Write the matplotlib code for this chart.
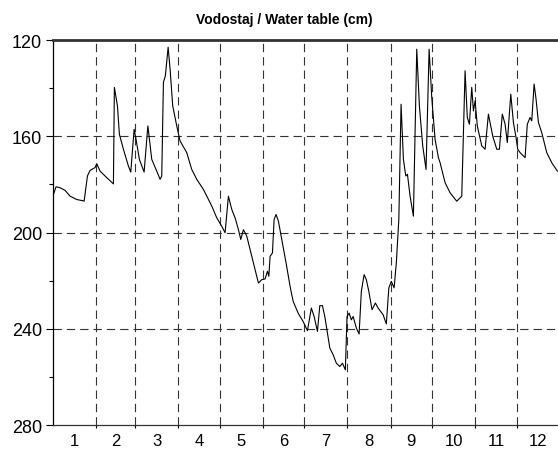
import numpy as np
import matplotlib
matplotlib.use('Agg')
import matplotlib.pyplot as plt

# day of year and water table depth (cm)
days = [0.3, 2.2, 5.1, 8.7, 12.3, 17.1, 21.5, 22.4, 24.8, 26.7, 30.3, 31.5, 33.9, 38.7,
        43.5, 44.2, 46.4, 47.8, 50.7, 54.3, 56.0, 58.4, 59.8, 62.2, 65.6, 68.3, 71.1,
        74.7, 77.1, 78.3, 79.5, 80.9, 82.9, 84.3, 86.2, 89.1, 91.5, 96.3, 99.9, 103.5,
        108.3, 114.3, 117.9, 121.5, 123.9, 126.3, 128.7, 131.1, 133.5, 135.2, 137.1,
        139.5, 143.1, 147.9, 150.3, 152.7, 154.4, 155.4, 156.3, 158.0, 159.2, 160.6,
        162.3, 164.7, 167.8, 170.7, 172.9, 176.5, 180.1, 183.2, 186.0, 188.0, 190.4,
        192.1, 194.0, 195.7, 199.3, 201.7, 204.0, 206.5, 208.4, 210.5, 211.7, 213.2,
        214.8, 216.1, 218.4, 220.4, 222.0, 224.0, 225.6, 227.4, 229.7, 232.1, 234.1,
        237.7, 240.0, 241.8, 243.6, 245.6, 247.2, 249.0, 250.6, 252.3, 254.0, 255.2,
        257.1, 259.5, 261.9, 263.8, 266.2, 268.6, 270.8, 272.7, 273.9, 275.1, 277.5,
        278.7, 282.3, 285.9, 290.7, 294.3, 296.7, 298.3, 299.8, 301.5, 302.7, 303.9,
        305.5, 308.7, 311.1, 313.5, 316.6, 319.5, 321.4, 323.5, 325.5, 327.1, 329.6,
        331.5, 333.4, 334.6, 336.3, 339.9, 341.5, 343.5, 344.7, 346.4, 347.8, 349.5,
        351.9, 355.5, 359.1, 363.2]
level = [184.2, 181.0, 181.4, 182.5, 184.9, 186.3, 186.8, 187.0, 176.5, 174.2, 173.0,
         171.4, 174.5, 177.2, 179.8, 139.7, 147.4, 159.2, 165.4, 172.4, 174.9, 157.1,
         161.3, 169.6, 174.9, 155.7, 169.6, 174.5, 177.9, 176.5, 137.6, 134.9, 123.0,
         132.1, 147.4, 155.7, 162.0, 166.8, 173.8, 177.9, 182.1, 189.0, 193.9, 197.4,
         200.1, 184.9, 190.4, 193.9, 198.8, 202.9, 198.8, 201.5, 209.9, 221.0, 219.6,
         219.3, 216.1, 218.2, 209.9, 208.5, 194.6, 192.5, 195.3, 202.9, 212.6, 222.4,
         228.6, 233.5, 237.0, 240.8, 231.4, 234.9, 241.1, 230.4, 230.4, 234.9, 248.0,
         250.8, 254.3, 255.7, 254.3, 257.1, 234.9, 233.5, 236.3, 234.9, 239.7, 242.2,
         224.5, 217.5, 219.6, 224.5, 232.1, 229.3, 231.4, 234.2, 238.0, 223.0, 220.3,
         223.0, 212.6, 194.6, 146.7, 169.6, 176.5, 175.8, 184.9, 193.2, 123.8, 147.4,
         164.0, 173.8, 123.8, 143.9, 152.9, 161.3, 168.9, 171.0, 179.3, 183.5, 187.0,
         184.9, 132.8, 152.2, 155.0, 139.7, 149.5, 145.3, 155.7, 164.0, 165.4, 150.8,
         159.9, 165.4, 165.4, 150.8, 155.0, 162.6, 142.5, 154.3, 160.5, 165.4, 166.8,
         168.9, 155.0, 152.2, 153.6, 138.3, 144.6, 154.3, 158.5, 166.8, 171.0, 174.5]

month_days = [31, 28, 31, 30, 31, 30, 31, 31, 30, 31, 30, 31]
month_labels = [str(m) for m in range(1, 13)]
y_major = [120, 160, 200, 240, 280]
y_minor = [140, 180, 220, 260]
title = 'Vodostaj / Water table (cm)'

plt.rcParams['font.family'] = ['Liberation Sans', 'DejaVu Sans']

fig = plt.figure(figsize=(5.58, 4.52), dpi=100)
ax = fig.add_axes([53 / 558, 1 - 426 / 452, 1 - 53 / 558, (426 - 41) / 452])

edges = np.cumsum(month_days)
centers = edges - np.array(month_days) / 2.0

grid_style = dict(color='#333333', lw=0.8, linestyle=(0, (7.5, 4.5)), zorder=1)
for e in edges[:-1]:
    ax.axvline(e, **grid_style)
for y in y_major[1:-1]:
    ax.axhline(y, **grid_style)

ax.plot(days, level, color='black', lw=0.8, zorder=3)

ax.set_xlim(0, 363.6)
ax.set_ylim(280, 120)

ax.set_yticks(y_major)
ax.set_yticks(y_minor, minor=True)
ax.tick_params(axis='y', which='major', direction='out', length=5, width=0.8,
               labelsize=13, pad=3)
ax.tick_params(axis='y', which='minor', direction='out', length=3, width=0.8)

ax.set_xticks(edges[:-1])
ax.set_xticklabels([])
ax.set_xticks(centers, minor=True)
ax.set_xticklabels(month_labels, minor=True)
ax.tick_params(axis='x', which='major', direction='out', length=2.5, width=0.8)
ax.tick_params(axis='x', which='minor', length=0, labelsize=12, pad=6)

ax.spines['right'].set_visible(False)
ax.spines['top'].set_linewidth(2.0)
ax.spines['top'].set_color('#333333')
ax.spines['left'].set_linewidth(0.9)
ax.spines['bottom'].set_linewidth(0.9)
ax.spines['bottom'].set_color('#333333')

fig.text(0.51, 1 - 20 / 452, title, ha='center', va='center',
         fontsize=10, fontweight='bold')

fig.savefig('out.png', dpi=100)
